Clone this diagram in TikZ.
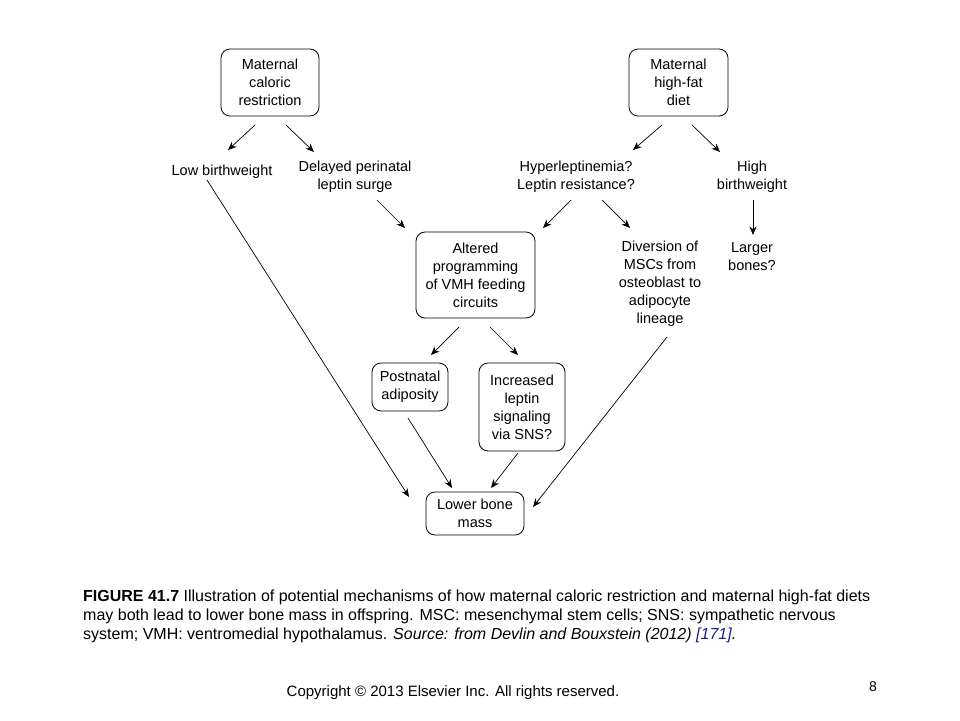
\documentclass[tikz,border=0pt]{standalone}
\usepackage{fontspec}
\setmainfont{Liberation Sans}
\usetikzlibrary{arrows.meta}
\definecolor{linkblue}{RGB}{30,30,140}
\newcommand{\dfont}{\fontsize{14.5}{18}\selectfont}
\newcommand{\cfont}{\fontsize{16}{19}\selectfont}
\begin{document}
\begin{tikzpicture}[x=1pt,y=-1pt,
  box/.style={draw, rounded corners=9pt, line width=0.8pt, align=center, font=\dfont, inner sep=0pt},
  txt/.style={align=center, font=\dfont, inner sep=0pt},
  arr/.style={-{Stealth[length=8.5pt,width=7pt]}, line width=0.7pt},
  captext/.style={anchor=base west, inner sep=0pt, font=\cfont}]
\useasboundingbox (0,0) rectangle (960,720);
% nodes
\node[box, minimum width=98pt, minimum height=67pt] (mcr) at (270,82.5) {Maternal\\caloric\\restriction};
\node[box, minimum width=99pt, minimum height=67pt] (mhf) at (678.5,82.5) {Maternal\\high-fat\\diet};
\node[txt] (lbw) at (222,172) {Low birthweight};
\node[txt] (dpl) at (355,177) {Delayed perinatal\\leptin surge};
\node[txt] (hyp) at (576,177) {Hyperleptinemia?\\Leptin resistance?};
\node[txt] (hbw) at (752,177) {High\\birthweight};
\node[box, minimum width=119pt, minimum height=86pt] (alt) at (475.5,275) {Altered\\programming\\of VMH feeding\\circuits};
\node[txt] (div) at (660,284) {Diversion of\\MSCs from\\osteoblast to\\adipocyte\\lineage};
\node[txt] (lgb) at (752,257) {Larger\\bones?};
\node[box, minimum width=76pt, minimum height=48pt] (pna) at (410,387) {Postnatal\\adiposity};
\node[box, minimum width=86pt, minimum height=88pt] (ils) at (522,407) {Increased\\leptin\\signaling\\via SNS?};
\node[box, minimum width=98pt, minimum height=43pt] (lbm) at (475,513.5) {Lower bone\\mass};
% arrows
\draw[arr] ([shift={(-15,42.5)}]mcr.center) -- ([shift={(6,-22)}]lbw.center);
\draw[arr] ([shift={(16,42.5)}]mcr.center) -- ([shift={(-41,-25)}]dpl.center);
\draw[arr] ([shift={(-16.5,42.5)}]mhf.center) -- ([shift={(57,-27)}]hyp.center);
\draw[arr] ([shift={(13.5,42.5)}]mhf.center) -- ([shift={(-32,-25)}]hbw.center);
\draw[arr] ([shift={(-15,8)}]lbw.center) -- ([shift={(-66,-16.5)}]lbm.center);
\draw[arr] ([shift={(22,23)}]dpl.center) -- ([shift={(-70.5,-47)}]alt.center);
\draw[arr] ([shift={(-5,23)}]hyp.center) -- ([shift={(67.5,-47)}]alt.center);
\draw[arr] ([shift={(26,23)}]hyp.center) -- ([shift={(-30,-56)}]div.center);
\draw[arr] ([shift={(1,23)}]hbw.center) -- ([shift={(1,-22)}]lgb.center);
\draw[arr] ([shift={(-16.5,52)}]alt.center) -- ([shift={(21,-32)}]pna.center);
\draw[arr] ([shift={(14.5,52)}]alt.center) -- ([shift={(-4,-52)}]ils.center);
\draw[arr] ([shift={(-2,31)}]pna.center) -- ([shift={(-23,-25.5)}]lbm.center);
\draw[arr] ([shift={(-4,46)}]ils.center) -- ([shift={(16,-25.5)}]lbm.center);
\draw[arr] ([shift={(7,53)}]div.center) -- ([shift={(58,-6.5)}]lbm.center);
% caption
\node[captext] (c1) at (83,601) {\textbf{FIGURE 41.7} Illustration of potential mechanisms of how maternal caloric restriction and maternal high-fat diets};
\node[captext] (c2) at (83,620) {may both lead to lower bone mass in offspring. MSC: mesenchymal stem cells; SNS: sympathetic nervous};
\node[captext] (c3) at (83,639) {system; VMH: ventromedial hypothalamus. \textit{Source: from Devlin and Bouxstein (2012) \textcolor{linkblue}{[171]}.}};
\node[anchor=base, inner sep=0pt, font=\fontsize{15}{18}\selectfont] (copy) at (453,696) {Copyright \textcopyright{} 2013 Elsevier Inc. All rights reserved.};
\node[anchor=base, inner sep=0pt, font=\fontsize{14}{16}\selectfont] (pg) at (873,691) {8};
\end{tikzpicture}
\end{document}
